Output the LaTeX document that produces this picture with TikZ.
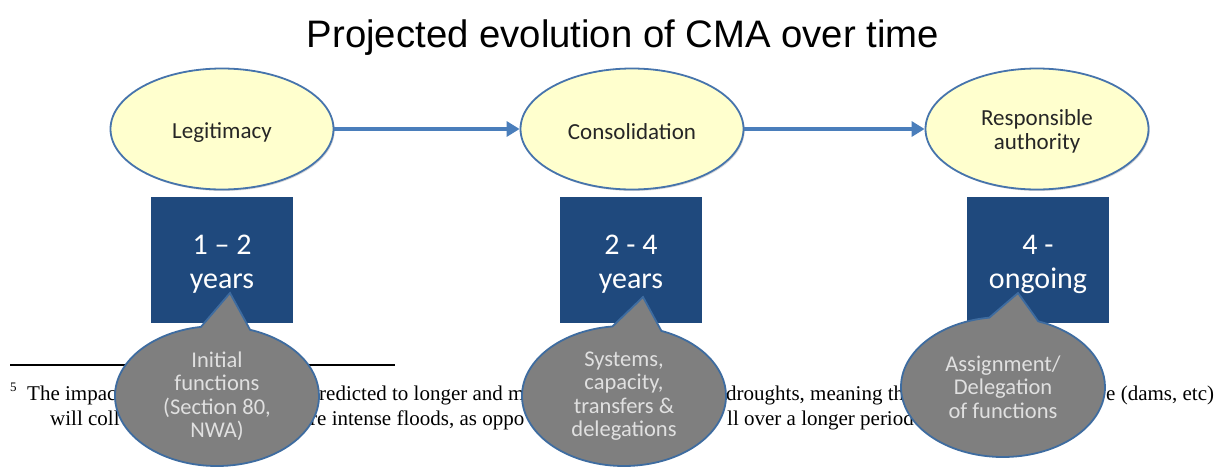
\documentclass[tikz,border=0pt]{standalone}
\usepackage{fontspec}
\setmainfont{Carlito}
\newfontfamily\titlefont{Liberation Sans}
\newfontfamily\notefont{Liberation Serif}
\usetikzlibrary{shapes.geometric,shapes.callouts,arrows.meta,shadows}

\definecolor{stageyellow}{RGB}{255,255,206}
\definecolor{stageedge}{RGB}{70,116,172}
\definecolor{arrowblue}{RGB}{74,126,187}
\definecolor{yearblue}{RGB}{31,73,125}
\definecolor{notegray}{RGB}{127,127,127}
\definecolor{noteedge}{RGB}{62,108,160}
\definecolor{notetext}{RGB}{224,224,224}
\definecolor{stagetext}{RGB}{38,38,38}

% invisible strut that lowers a label inside its node
\newcommand{\lift}[1]{\rule{0pt}{#1}}

\begin{document}
\begin{tikzpicture}[x=1pt,y=-1pt,
  stage/.style={ellipse, draw=stageedge, line width=1.8pt, fill=stageyellow,
    minimum width=223pt, minimum height=121pt, inner sep=0pt, align=center,
    text=stagetext, font=\fontsize{23}{24}\selectfont,
    drop shadow={shadow xshift=1.2pt, shadow yshift=-1.5pt, opacity=0.3}},
  flow/.style={draw=arrowblue, line width=3.2pt, -{Triangle[length=13pt,width=15pt]}},
  yearbox/.style={rectangle, fill=yearblue, minimum width=142pt, minimum height=126pt,
    inner sep=0pt, align=center, text=white, font=\fontsize{30}{34}\selectfont},
  note/.style={ellipse callout, fill=notegray, draw=noteedge, line width=1.8pt,
    minimum width=204pt, minimum height=140pt, inner sep=0pt, align=center,
    text=notetext, font=\fontsize{22.5}{23.5}\selectfont, callout pointer arc=28},
  fn/.style={anchor=base west, inner sep=0pt, font=\notefont\fontsize{21}{25}\selectfont},
  heading/.style={anchor=base, inner sep=0pt, font=\titlefont\fontsize{38.3}{42}\selectfont}
]
\useasboundingbox[fill=white] (0,0) rectangle (1215,466);

% footnote lying under the diagram
\coordinate (ruleL) at (10,365);
\coordinate (ruleR) at (395,365);
\draw[line width=1.6pt] (ruleL) -- (ruleR);
\node[fn] (fmark) at (10,400) {\raisebox{0.42em}{\fontsize{13}{13}\selectfont 5}};
\node[fn] (fa) at (27,400) {The impac};
\node[fn] (fb) at (319,400) {redicted to longer and m};
\node[fn] (fc) at (726,400) {droughts, meaning th};
\node[fn] (fd) at (1106,400) {e (dams, etc)};
\node[fn] (ga) at (50,425) {will coll};
\node[fn] (gb) at (310,425) {re intense floods, as oppo};
\node[fn] (gc) at (727,425) {ll over a longer period};

% title
\node[heading] (title) at (623,47) {Projected evolution of CMA over time};

% stages
\node[stage] (s1) at (222,129) {\lift{22pt}Legitimacy};
\node[stage] (s2) at (632,129) {\lift{22pt}Consolidation};
\node[stage] (s3) at (1037,129) {\lift{20pt}Responsible\\authority};
\draw[flow] (s1) -- (s2);
\draw[flow] (s2) -- (s3);

% durations
\node[yearbox] (r1) at (222,260) {\lift{28pt}1 – 2\\years};
\node[yearbox] (r2) at (631,260) {\lift{28pt}2 - 4\\years};
\node[yearbox] (r3) at (1038,260) {\lift{28pt}4 -\\ongoing};

% what each stage covers
\coordinate (p1) at (230,293);
\coordinate (p2) at (643,297);
\coordinate (p3) at (1018,293);
\node[note, callout absolute pointer={(p1)}] (c1) at (217,396) {Initial\\functions\\(Section 80,\\NWA)};
\node[note, callout absolute pointer={(p2)}] (c2) at (624,396) {Systems,\\capacity,\\transfers \&\\delegations};
\node[note, callout absolute pointer={(p3)}] (c3) at (1003,387) {Assignment/\\Delegation\\of functions};
\end{tikzpicture}
\end{document}
